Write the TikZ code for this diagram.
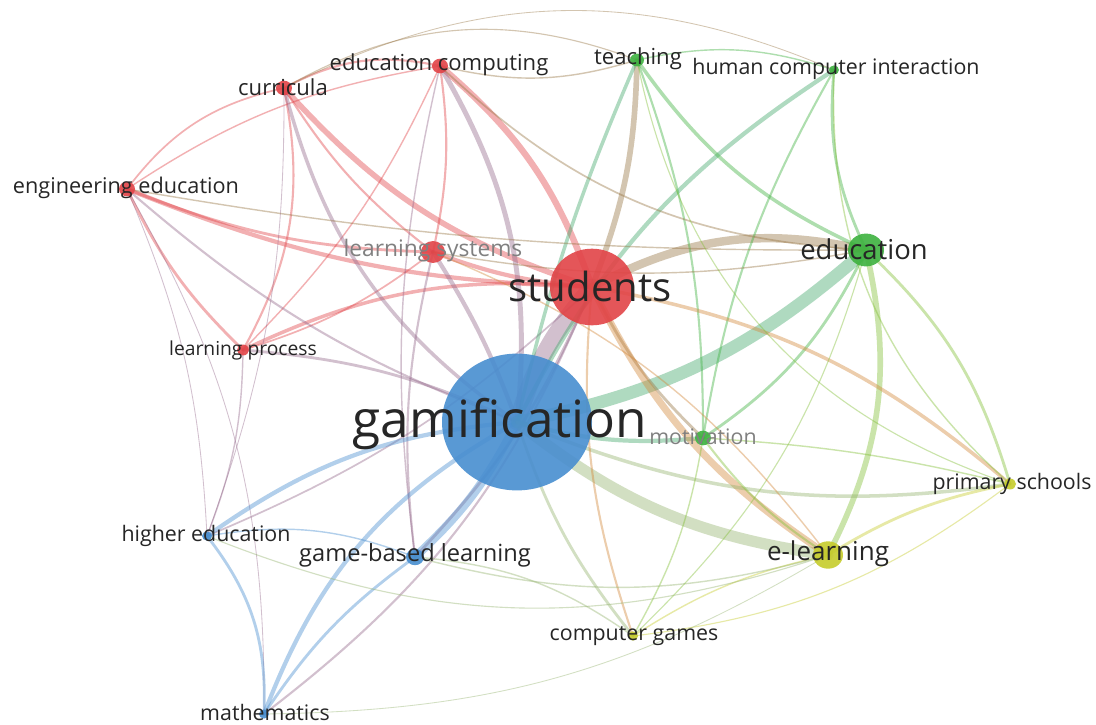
\documentclass[tikz,border=0pt]{standalone}
\usepackage{fontspec}
\setmainfont{Open Sans}
\usetikzlibrary{shapes.geometric}

\definecolor{vred}{RGB}{226,68,72}
\definecolor{vblue}{RGB}{72,142,208}
\definecolor{vgreen}{RGB}{62,178,64}
\definecolor{vyellow}{RGB}{198,204,44}
\colorlet{rb}{vred!50!vblue}
\colorlet{rg}{vred!55!vgreen}
\colorlet{ry}{vred!50!vyellow}
\colorlet{bg}{vblue!30!vgreen}
\colorlet{by}{vblue!40!vyellow}
\colorlet{gy}{vgreen!50!vyellow}

\pgfdeclarelayer{back}
\pgfdeclarelayer{links}
\pgfsetlayers{back,links,main}

\tikzset{
  term/.style = {
    ellipse, inner sep=0pt, draw=none, fill opacity=0.9,
    minimum width=#1*0.025cm, minimum height=#1*0.0228cm
  },
  lbl/.style = {
    inner sep=0pt, text=black!85,
    font=\fontsize{#1}{#1}\selectfont
  },
  faint/.style = {text=black!50},
  link/.style = {draw opacity=0.42, line cap=round},
}

\begin{document}
\begin{tikzpicture}[x=0.025cm, y=-0.025cm]
  \begin{pgfonlayer}{back}
    \fill[white] (0,0) rectangle (1096,724);
  \end{pgfonlayer}
  \useasboundingbox (0,0) rectangle (1096,724);

  % terms, sized by occurrences
  \node [term=150, fill=vblue]   (gam)    at (517,422) {};
  \node [term=84,  fill=vred]    (stu)    at (592,287) {};
  \node [term=36,  fill=vgreen]  (edu)    at (866,250) {};
  \node [term=30,  fill=vyellow] (elearn) at (828,555) {};
  \node [term=24,  fill=vred]    (lsys)   at (433,252) {};
  \node [term=16,  fill=vred]    (edcomp) at (440,66)  {};
  \node [term=16,  fill=vred]    (curr)   at (284,88)  {};
  \node [term=16,  fill=vred]    (engedu) at (127,189) {};
  \node [term=12,  fill=vred]    (lproc)  at (243,350) {};
  \node [term=14,  fill=vgreen]  (teach)  at (637,60)  {};
  \node [term=10,  fill=vgreen]  (hci)    at (834,70)  {};
  \node [term=16,  fill=vgreen]  (motiv)  at (703,438) {};
  \node [term=12,  fill=vyellow] (prim)   at (1010,484) {};
  \node [term=10,  fill=vyellow] (cgames) at (633,636) {};
  \node [term=10,  fill=vblue]   (hedu)   at (207,536) {};
  \node [term=18,  fill=vblue]   (gbl)    at (415,557) {};
  \node [term=10,  fill=vblue]   (math)   at (264,714) {};

  % co-occurrence links: from/to/width/colour/bend
  \begin{pgfonlayer}{links}
    \foreach \a/\b/\w/\c/\bnd in {
      edcomp/stu/4.5/vred/15, curr/stu/4/vred/-15, engedu/stu/3/vred/-10,
      lsys/stu/3/vred/-8, lproc/stu/2.5/vred/15, curr/edcomp/1.5/vred/20,
      engedu/curr/1.2/vred/20, engedu/edcomp/1/vred/12, engedu/lproc/2/vred/-10,
      curr/lproc/1.5/vred/20, edcomp/lproc/1/vred/10, curr/lsys/1.5/vred/-10,
      edcomp/lsys/1.5/vred/10, engedu/lsys/2/vred/-10, lsys/lproc/1.2/vred/10,
      gam/stu/12/rb/12, edcomp/gam/3.5/rb/18, curr/gam/2.5/rb/-20,
      lsys/gam/3/rb/6, engedu/gam/1.5/rb/-10, lproc/gam/2/rb/10,
      lproc/hedu/1/rb/10, gbl/stu/2/rb/-10, gbl/lsys/1.5/rb/10,
      math/stu/1.5/rb/-15, hedu/stu/1.2/rb/-10, gbl/edcomp/1/rb/10,
      hedu/curr/0.6/rb/-10, engedu/hedu/0.6/rb/10, engedu/math/0.6/rb/15,
      gam/gbl/6/vblue/10, gam/hedu/3/vblue/-15, math/gam/3/vblue/20,
      gbl/math/2/vblue/-10, hedu/math/2/vblue/20, hedu/gbl/1/vblue/15,
      gam/edu/9/bg/-15, stu/edu/6/rg/20, teach/stu/4/rg/10,
      teach/gam/2.5/bg/-5, hci/gam/3/bg/-15, teach/edu/2.5/vgreen/-15,
      hci/edu/2/vgreen/-15, teach/hci/1/vgreen/15, edu/motiv/2/vgreen/15,
      motiv/gam/3/bg/10, motiv/stu/2/rg/10, teach/motiv/1.5/vgreen/10,
      hci/motiv/1.5/vgreen/-10, edu/lsys/1/rg/10, edcomp/edu/1.2/rg/-20,
      teach/edcomp/1/rg/15, curr/teach/0.8/rg/25, engedu/edu/1/rg/-5,
      curr/hci/0.6/rg/25,
      gam/elearn/8/by/-15, stu/elearn/5/ry/-15, edu/elearn/4/gy/20,
      edu/prim/2/gy/15, stu/prim/2.5/ry/15, gam/prim/2.5/by/-15,
      elearn/prim/2/vyellow/10, motiv/elearn/1.5/gy/-10, motiv/prim/1/gy/5,
      cgames/gam/2/by/10, cgames/stu/1.5/ry/12, cgames/elearn/1/vyellow/10,
      cgames/motiv/1/gy/-10, cgames/gbl/1/by/-15, cgames/prim/0.8/vyellow/-15,
      cgames/edu/0.8/gy/-15, hedu/elearn/0.8/by/-20, gbl/elearn/1/by/-15,
      math/elearn/0.6/by/-15, lsys/elearn/1/ry/15, hci/prim/1/gy/-25,
      teach/prim/0.8/gy/-30
    }
      \draw [link, line width=\w pt, draw=\c] (\a.center) to [bend left=\bnd] (\b.center);
  \end{pgfonlayer}

  % labels, centred on their terms
  \node [lbl=36.5] (gam-text)    at (500,424) {gamification};
  \node [lbl=28.5] (stu-text)    at (590,286) {students};
  \node [lbl=19.5] (edu-text)    at (864,249) {education};
  \node [lbl=18.5] (elearn-text) at (828,554) {e-learning};
  \node [lbl=16.2, faint] (lsys-text) at (433,251) {learning systems};
  \node [lbl=15.7] (edcomp-text) at (439,65)  {education computing};
  \node [lbl=15.7] (curr-text)   at (283,87)  {curricula};
  \node [lbl=15.4] (engedu-text) at (126,188) {engineering education};
  \node [lbl=13.7] (lproc-text)  at (243,350) {learning process};
  \node [lbl=15.7] (teach-text)  at (638,59)  {teaching};
  \node [lbl=15.2] (hci-text)    at (836,69)  {human computer interaction};
  \node [lbl=15.2, faint] (motiv-text) at (703,437) {motivation};
  \node [lbl=15.2] (prim-text)   at (1012,484) {primary schools};
  \node [lbl=15.2] (cgames-text) at (634,636) {computer games};
  \node [lbl=15.2] (hedu-text)   at (206,536) {higher education};
  \node [lbl=16.8] (gbl-text)    at (415,555) {game-based learning};
  \node [lbl=15.2] (math-text)   at (265,712) {mathematics};
\end{tikzpicture}
\end{document}
